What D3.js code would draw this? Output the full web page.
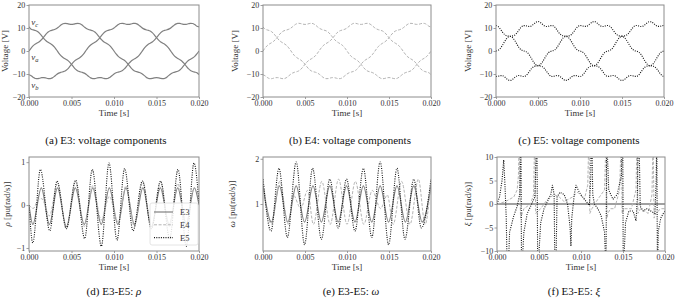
<!DOCTYPE html>
<html><head><meta charset="utf-8">
<script src="https://cdn.jsdelivr.net/npm/d3@7"></script>
<style>
body{margin:0;background:#fff}
svg{display:block}
svg text{font-family:"Liberation Serif","Times New Roman",Times,"DejaVu Serif",serif !important;}
</style>
</head><body>
<svg id="c" width="675" height="304"></svg>
<script>
// ---------- DATA ----------
const tV = [0,0.25,0.5,0.75,1,1.25,1.5,1.75,2,2.25,2.5,2.75,3,3.25,3.5,3.75,4,4.25,4.5,4.75,5,5.25,5.5,5.75,6,6.25,6.5,6.75,7,7.25,7.5,7.75,8,8.25,8.5,8.75,9,9.25,9.5,9.75,10,10.25,10.5,10.75,11,11.25,11.5,11.75,12,12.25,12.5,12.75,13,13.25,13.5,13.75,14,14.25,14.5,14.75,15,15.25,15.5,15.75,16,16.25,16.5,16.75,17,17.25,17.5,17.75,18,18.25,18.5,18.75,19,19.25,19.5,19.75,20];
// E3 voltages
const vaE3 = [0,1.28,2.32,3.03,3.57,4.17,5.05,6.16,7.31,8.24,8.81,9.08,9.35,9.79,10.49,11.26,11.84,12.05,11.92,11.67,11.55,11.67,11.92,12.05,11.84,11.26,10.49,9.79,9.35,9.08,8.81,8.24,7.31,6.16,5.05,4.17,3.57,3.03,2.32,1.28,0,-1.28,-2.32,-3.03,-3.57,-4.17,-5.05,-6.16,-7.31,-8.24,-8.81,-9.08,-9.35,-9.79,-10.49,-11.26,-11.84,-12.05,-11.92,-11.67,-11.55,-11.67,-11.92,-12.05,-11.84,-11.26,-10.49,-9.79,-9.35,-9.08,-8.81,-8.24,-7.31,-6.16,-5.05,-4.17,-3.57,-3.03,-2.32,-1.28,0];
const vbE3 = [-10.30,-10.75,-11.48,-11.96,-12.04,-11.84,-11.60,-11.57,-11.75,-11.99,-12.02,-11.68,-11.01,-10.24,-9.61,-9.25,-9.01,-8.66,-7.97,-6.95,-5.77,-4.73,-3.95,-3.40,-2.82,-2.02,-0.88,0.44,1.66,2.60,3.23,3.76,4.43,5.40,6.56,7.67,8.47,8.91,9.17,9.47,10.00,10.75,11.48,11.96,12.04,11.84,11.60,11.57,11.75,11.99,12.02,11.68,11.01,10.24,9.61,9.25,9.01,8.66,7.97,6.95,5.77,4.73,3.95,3.40,2.82,2.02,0.88,-0.44,-1.66,-2.60,-3.23,-3.76,-4.43,-5.40,-6.56,-7.67,-8.47,-8.91,-9.17,-9.47,-10.30];
const vcE3 = [10.50,9.47,9.17,8.91,8.47,7.67,6.56,5.40,4.43,3.76,3.23,2.60,1.66,0.44,-0.88,-2.02,-2.82,-3.40,-3.95,-4.73,-5.77,-6.95,-7.97,-8.66,-9.01,-9.25,-9.61,-10.24,-11.01,-11.68,-12.02,-11.99,-11.75,-11.57,-11.60,-11.84,-12.04,-11.96,-11.48,-10.75,-10.00,-9.47,-9.17,-8.91,-8.47,-7.67,-6.56,-5.40,-4.43,-3.76,-3.23,-2.60,-1.66,-0.44,0.88,2.02,2.82,3.40,3.95,4.73,5.77,6.95,7.97,8.66,9.01,9.25,9.61,10.24,11.01,11.68,12.02,11.99,11.75,11.57,11.60,11.84,12.04,11.96,11.48,10.75,10.50];
// E4 voltages (same waveform as E3 in the reference)
const vaE4 = vaE3.slice(), vbE4 = vbE3.slice(), vcE4 = vcE3.slice();
// E5 voltages (stronger ripple)
const vaE5 = [0,0.33,1.09,2.39,3.96,5.35,6.17,6.47,6.58,6.98,7.91,9.19,10.36,11.02,11.05,10.78,10.64,10.99,11.72,12.48,12.81,12.48,11.72,10.99,10.64,10.78,11.05,11.02,10.36,9.19,7.91,6.98,6.58,6.47,6.17,5.35,3.96,2.39,1.09,0.33,0,-0.33,-1.09,-2.39,-3.96,-5.35,-6.17,-6.47,-6.58,-6.98,-7.91,-9.19,-10.36,-11.02,-11.05,-10.78,-10.64,-10.99,-11.72,-12.48,-12.81,-12.48,-11.72,-10.99,-10.64,-10.78,-11.05,-11.02,-10.36,-9.19,-7.91,-6.98,-6.58,-6.47,-6.17,-5.35,-3.96,-2.39,-1.09,-0.33,0];
const vbE5 = [-11.09,-10.97,-10.70,-10.70,-11.20,-12.01,-12.66,-12.77,-12.25,-11.46,-10.82,-10.64,-10.87,-11.11,-10.87,-10.01,-8.76,-7.54,-6.79,-6.53,-6.41,-5.96,-4.93,-3.43,-1.90,-0.76,-0.18,0.08,0.51,1.45,2.89,4.46,5.69,6.32,6.50,6.66,7.24,8.32,9.62,10.65,11.09,10.97,10.70,10.70,11.20,12.01,12.66,12.77,12.25,11.46,10.82,10.64,10.87,11.11,10.87,10.01,8.76,7.54,6.79,6.53,6.41,5.96,4.93,3.43,1.90,0.76,0.18,-0.08,-0.51,-1.45,-2.89,-4.46,-5.69,-6.32,-6.50,-6.66,-7.24,-8.32,-9.62,-10.65,-11.09];
const vcE5 = [11.09,10.65,9.62,8.32,7.24,6.66,6.50,6.32,5.69,4.46,2.89,1.45,0.51,0.08,-0.18,-0.76,-1.90,-3.43,-4.93,-5.96,-6.41,-6.53,-6.79,-7.54,-8.76,-10.01,-10.87,-11.11,-10.87,-10.64,-10.82,-11.46,-12.25,-12.77,-12.66,-12.01,-11.20,-10.70,-10.70,-10.97,-11.09,-10.65,-9.62,-8.32,-7.24,-6.66,-6.50,-6.32,-5.69,-4.46,-2.89,-1.45,-0.51,-0.08,0.18,0.76,1.90,3.43,4.93,5.96,6.41,6.53,6.79,7.54,8.76,10.01,10.87,11.11,10.87,10.64,10.82,11.46,12.25,12.77,12.66,12.01,11.20,10.70,10.70,10.97,11.09];

// rho [pu(rad/s)] key points (time in ms, value)
const rhoE3T = [0,0.45,1.45,2.4,3.35,4.4,5.45,6.5,7.5,8.5,9.45,10.45,11.4,12.4,13.4,14.4,15.45,16.5,17.5,18.5,19.45,20];
const rhoE3V = [0,-0.45,0.4,-0.45,0.4,-0.5,0.4,-0.45,0.4,-0.45,0.4,-0.45,0.4,-0.45,0.4,-0.5,0.4,-0.45,0.4,-0.45,0.4,0];
const rhoE4T = [0,0.5,1.0,1.5,2.4,3.35,4.4,5.45,6.5,7.5,8.5,9.45,10.5,11.4,12.4,13.4,14.4,15.45,16.5,17.5,18.5,19.45,20];
const rhoE4V = [0,-0.08,0.1,0.15,-0.25,0.5,-0.55,0.55,-0.5,0.45,-0.35,0.2,-0.4,0.45,-0.5,0.55,-0.55,0.55,-0.5,0.5,-0.4,0.4,0.2];
const rhoE5T = [0,0.45,1.34,2.44,3.3,4.4,5.49,6.55,7.45,8.51,9.41,10.35,11.25,12.24,13.34,14.4,15.49,16.55,17.53,18.51,19.41,20];
const rhoE5V = [0,-0.88,0.83,-0.6,0.56,-0.55,0.58,-0.78,0.83,-0.96,0.98,-0.82,0.85,-0.6,0.56,-0.55,0.56,-0.78,0.83,-0.96,0.98,0.05];

// omega [pu(rad/s)]
const omE3T = [0,1.0,1.95,2.95,3.95,4.95,5.95,6.95,7.95,8.95,9.95,10.95,11.95,12.95,13.95,14.95,15.95,16.95,17.95,18.95,20];
const omE3V = [1.4,0.6,1.4,0.6,1.4,0.6,1.4,0.6,1.4,0.6,1.4,0.6,1.4,0.6,1.4,0.6,1.4,0.6,1.4,0.6,1.4];
const omE4T = [0,1,2,3,3.6,4.5,5.3,6,7,8,9,10,11,12,13,14,14.8,15.5,16.5,17.5,18.5,19.3,20];
const omE4V = [1.55,0.55,1.5,0.55,1.2,0.9,1.3,0.55,1.5,0.55,1.55,0.55,1.5,0.55,1.3,0.9,1.2,0.55,1.5,0.55,1.55,0.55,1.55];
const omE5T = [0,0.95,1.9,2.9,3.95,4.95,5.9,6.95,7.95,8.95,9.95,10.95,11.95,12.95,13.95,14.95,15.95,16.9,17.95,18.85,20];
const omE5V = [1.55,0.4,1.79,0.26,1.93,0.1,1.79,0.22,1.55,0.47,1.55,0.4,1.79,0.26,1.93,0.1,1.79,0.22,1.55,0.47,1.55];

// xi [pu(rad/s)]
const xiE3T = [0,20];
const xiE3V = [0,0];
const xiE4T = [0,1,2,2.4,2.55,2.65,2.8,3.2,4,4.35,4.5,4.6,5.2,6,6.8,7.4,8,9,9.6,10.4,10.8,10.95,11.05,11.3,12,12.8,13.0,13.1,13.2,13.5,14,14.6,14.8,14.9,15.1,16,16.55,16.68,16.78,17.1,18,18.45,18.58,18.7,18.9,19.5,20];
const xiE4V = [0,0.5,1.5,3,6,15,-3,-1,0,2,15,-2,-1,1,2,1.5,0.5,1.5,2.5,1,4,15,-2,-1,1,3,15,-3,-2,-1,-1,3,15,-2,-1,-1,3,15,-2,-1,-2,2,15,-3,-2,-1,-1];
const xiE5T = [0,0.3,0.6,0.8,0.95,1.1,1.22,1.32,1.5,2.0,2.4,2.7,2.85,2.92,3.2,3.6,4.0,4.5,4.75,4.85,5.2,5.6,6.0,6.4,6.6,6.8,6.9,7.0,7.15,7.5,8.0,8.4,8.7,8.8,8.9,9.2,9.4,9.8,10.4,11.0,11.15,11.22,11.28,11.4,11.6,12.0,12.4,12.8,12.98,13.05,13.3,13.8,14.3,14.8,14.97,15.03,15.3,15.7,16.2,16.55,16.7,16.83,16.9,17.05,17.4,17.8,18.3,18.8,18.95,19.02,19.1,19.2,19.5,19.8,20];
const xiE5V = [0,1.5,5,9.4,4,-3,-15,-15,-6,-2.5,-0.5,2,15,-15,-6,-2,-0.5,1.5,15,-15,-4,-1,0.5,2,4,2,-15,-15,1.5,2.5,2,0,-5,-9,-3,2,4,2.5,1,-0.3,5,15,15,2,0,-1,-2.5,-6,-15,15,3,1,2,6,15,-15,-4,-1.5,-1.5,-3.6,1,15,15,-0.5,-1.5,-1,-1.5,-2,5,15,-15,-5.8,-3,-2,-1.5];

const xTickVals = [0,0.005,0.010,0.015,0.020];
const vTicks = [-20,-10,0,10,20];
const rhoTicks = [-1,0,1];
const omTicks = [1,2];
const xiTicks = [-10,-5,0,5,10];

// ---------- STYLES ----------
const FONT = "'Liberation Serif','Times New Roman',Times,'DejaVu Serif',serif";
const ST = {
  E3:{stroke:"#808080",w:1.2,dash:null},
  E4:{stroke:"#b4b4b4",w:1.0,dash:"3,1.6"},
  E5:{stroke:"#111",w:1.1,dash:"1,1.3"}
};

const svg = d3.select("#c");
let clipId = 0;

function panel(o){
  const x = d3.scaleLinear().domain([0,0.02]).range([o.l,o.r]);
  const y = d3.scaleLinear().domain(o.ydom).range([o.b,o.t]);
  const g = svg.append("g");
  const id = "clip"+(clipId++);
  g.append("clipPath").attr("id",id).append("rect")
    .attr("x",o.l).attr("y",o.t).attr("width",o.r-o.l).attr("height",o.b-o.t);
  const pg = g.append("g").attr("clip-path",`url(#${id})`);
  o.series.forEach(s=>{
    const st = ST[s.key];
    const line = d3.line().x((d,i)=>x(s.t[i]/1000)).y(d=>y(d)).curve(s.curve||d3.curveLinear);
    pg.append("path").attr("d",line(s.v)).attr("fill","none")
      .attr("stroke",st.stroke).attr("stroke-width",s.w||st.w)
      .attr("stroke-dasharray",st.dash).attr("stroke-linejoin","round");
  });
  const xa = g.append("g").attr("transform",`translate(0,${o.b})`)
    .call(d3.axisBottom(x).tickValues(xTickVals).tickFormat(d3.format(".3f")).tickSize(2).tickPadding(1));
  const ya = g.append("g").attr("transform",`translate(${o.l},0)`)
    .call(d3.axisLeft(y).tickValues(o.yticks).tickFormat(d3.format("d")).tickSize(2.5).tickPadding(1.2));
  [xa,ya].forEach(a=>{
    a.attr("font-family",FONT);
    a.select(".domain").remove();
    a.selectAll(".tick line").attr("stroke","#888").attr("stroke-width",0.8);
    a.selectAll(".tick text").attr("font-size",8).attr("fill","#333");
  });
  g.append("rect").attr("x",o.l).attr("y",o.t).attr("width",o.r-o.l).attr("height",o.b-o.t)
    .attr("fill","none").attr("stroke","#8c8c8c").attr("stroke-width",1);
  g.append("text").attr("x",(o.l+o.r)/2).attr("y",o.b+19).attr("text-anchor","middle")
    .attr("font-family",FONT).attr("font-size",9).attr("fill","#333").text("Time [s]");
  const yl = g.append("text").attr("transform",`translate(${o.ylx},${(o.t+o.b)/2}) rotate(-90)`)
    .attr("text-anchor","middle").attr("font-family",FONT).attr("font-size",9).attr("fill","#333");
  if(o.ysym){
    yl.append("tspan").attr("font-style","italic").text(o.ysym);
    yl.append("tspan").text(" [pu(rad/s)]");
  } else yl.text(o.ylabel);
  const cap = svg.append("text").attr("x",o.capx).attr("y",o.capy).attr("text-anchor","middle")
    .attr("font-family",FONT).attr("font-size",11).attr("fill","#111");
  cap.append("tspan").text(o.cap);
  if(o.capsym) cap.append("tspan").attr("font-style","italic").text(o.capsym);
  return {x,y,g};
}

const row1 = {t:5, b:97};
const row2 = {t:157, b:251};
const cols = [{l:29,r:199},{l:263,r:431},{l:496,r:664}];
const cols2 = [{l:29,r:199},{l:263,r:431},{l:497,r:665}];
const mono = d3.curveMonotoneX;

const pa = panel({...cols[0],...row1,ydom:[-20,20],yticks:vTicks,ylabel:"Voltage [V]",ylx:8,
  capx:106,capy:144,cap:"(a) E3: voltage components",
  series:[{key:"E3",t:tV,v:vaE3,curve:mono},{key:"E3",t:tV,v:vbE3,curve:mono},{key:"E3",t:tV,v:vcE3,curve:mono}]});
panel({...cols[1],...row1,ydom:[-20,20],yticks:vTicks,ylabel:"Voltage [V]",ylx:238,
  capx:350,capy:144,cap:"(b) E4: voltage components",
  series:[{key:"E4",t:tV,v:vaE4,curve:mono},{key:"E4",t:tV,v:vbE4,curve:mono},{key:"E4",t:tV,v:vcE4,curve:mono}]});
panel({...cols[2],...row1,ydom:[-20,20],yticks:vTicks,ylabel:"Voltage [V]",ylx:471,
  capx:579,capy:144,cap:"(c) E5: voltage components",
  series:[{key:"E5",t:tV,v:vaE5,curve:mono},{key:"E5",t:tV,v:vbE5,curve:mono},{key:"E5",t:tV,v:vcE5,curve:mono}]});

[["c",11.3],["a",-4],["b",-16]].forEach(([s,v])=>{
  const t = pa.g.append("text").attr("x",pa.x(0.00025)).attr("y",pa.y(v))
    .attr("font-family",FONT).attr("font-size",9).attr("fill","#333");
  t.append("tspan").attr("font-style","italic").text("v");
  t.append("tspan").attr("font-size",6.5).attr("dy",2).attr("font-style","italic").text(s);
});

panel({...cols2[0],...row2,ydom:[-1.07,1.12],yticks:rhoTicks,ysym:"ρ",ylx:10,
  capx:114,capy:295,cap:"(d) E3-E5: ",capsym:"ρ",
  series:[{key:"E3",t:rhoE3T,v:rhoE3V,curve:mono},{key:"E4",t:rhoE4T,v:rhoE4V,curve:mono},{key:"E5",t:rhoE5T,v:rhoE5V,curve:mono}]});
panel({...cols2[1],...row2,ydom:[-0.04,2.04],yticks:omTicks,ysym:"ω",ylx:235,
  capx:351,capy:295,cap:"(e) E3-E5: ",capsym:"ω",
  series:[{key:"E3",t:omE3T,v:omE3V,curve:mono},{key:"E4",t:omE4T,v:omE4V,curve:mono},{key:"E5",t:omE5T,v:omE5V,curve:mono}]});
panel({...cols2[2],...row2,ydom:[-10,10],yticks:xiTicks,ysym:"ξ",ylx:471,
  capx:574,capy:295,cap:"(f) E3-E5: ",capsym:"ξ",
  series:[{key:"E3",t:xiE3T,v:xiE3V,w:1.6},{key:"E4",t:xiE4T,v:xiE4V},{key:"E5",t:xiE5T,v:xiE5V}]});

const lg = svg.append("g");
lg.append("rect").attr("x",150).attr("y",203).attr("width",48).attr("height",42).attr("rx",2)
  .attr("fill","rgba(255,255,255,0.85)").attr("stroke","#ddd").attr("stroke-width",0.8);
["E3","E4","E5"].forEach((k,i)=>{
  const yy = 212+i*12.8;
  const st = ST[k];
  lg.append("line").attr("x1",154).attr("x2",173).attr("y1",yy).attr("y2",yy)
    .attr("stroke",st.stroke).attr("stroke-width",st.w).attr("stroke-dasharray",st.dash);
  lg.append("text").attr("x",180).attr("y",yy+3).attr("font-family",FONT).attr("font-size",8.5).attr("fill","#333").text(k);
});
</script>
</body></html>
